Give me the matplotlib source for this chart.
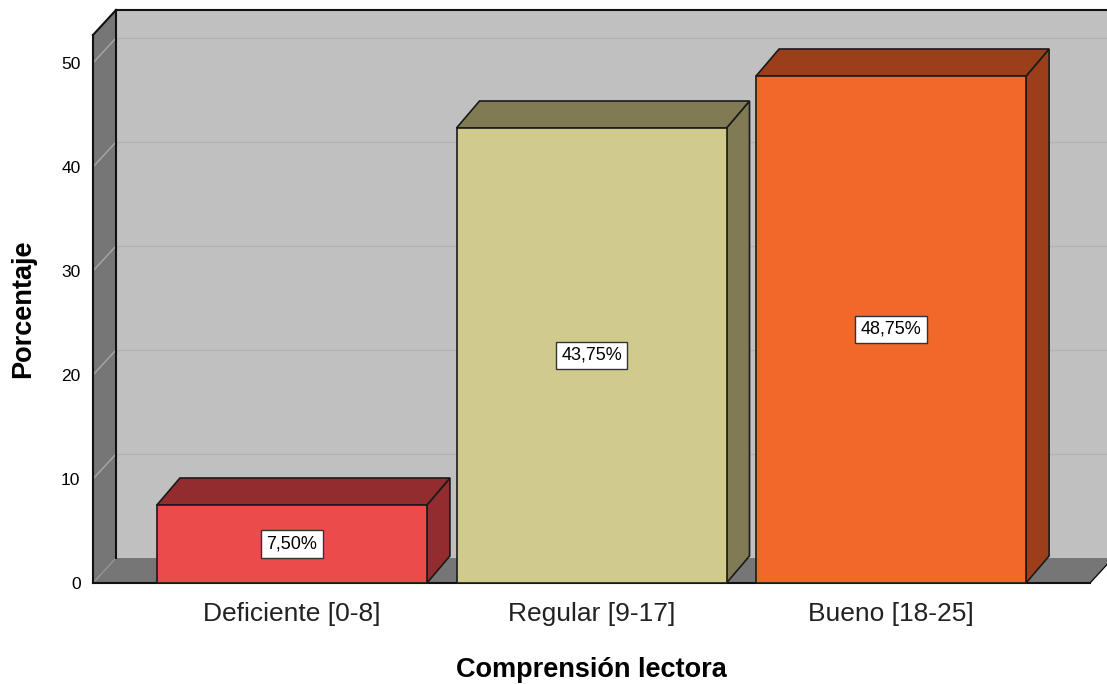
import matplotlib
matplotlib.use("Agg")
import matplotlib.pyplot as plt
from matplotlib.patches import Polygon, Rectangle

plt.rcParams['font.family'] = ['Liberation Sans', 'DejaVu Sans']

categories = ["Deficiente [0-8]", "Regular [9-17]", "Bueno [18-25]"]
values = [7.50, 43.75, 48.75]
value_labels = ["7,50%", "43,75%", "48,75%"]
yticks = [0, 10, 20, 30, 40, 50]
front_colors = ["#ec4b4c", "#d0ca8c", "#f2682a"]
shade_colors = ["#922c2e", "#807b55", "#9a3f19"]

W, H = 1107, 684
fig = plt.figure(figsize=(W / 100, H / 100), dpi=100)

# pixel geometry of the plotting frame
px_left, px_right = 93, 1090
px_y0 = 583
ppu_y = 10.40
px_top = 35
ytop = (px_y0 - px_top) / ppu_y
ax = fig.add_axes([px_left / W, (H - px_y0) / H,
                   (px_right - px_left) / W, (px_y0 - px_top) / H])
x0, x1 = -0.664, 2.664
ax.set_xlim(x0, x1)
ax.set_ylim(0, ytop)
ppu_x = (px_right - px_left) / (x1 - x0)

ddx = 23 / ppu_x
ddy = 25 / ppu_y
bdy = 27 / ppu_y

wall_dark = "#767676"
wall_light = "#c0c0c0"
kw = dict(clip_on=False)

# back wall
ax.add_patch(Polygon([(x0 + ddx, ddy), (x1 + 2 * ddx, ddy), (x1 + 2 * ddx, ytop + ddy),
                      (x0 + ddx, ytop + ddy)], closed=True, facecolor=wall_light,
                     edgecolor="none", zorder=1, **kw))
# left wall
ax.add_patch(Polygon([(x0, 0), (x0, ytop), (x0 + ddx, ytop + ddy), (x0 + ddx, ddy)],
                     closed=True, facecolor=wall_dark, edgecolor="none", zorder=1, **kw))
# floor
ax.add_patch(Polygon([(x0, 0), (x1, 0), (x1 + ddx, ddy), (x0 + ddx, ddy)],
                     closed=True, facecolor=wall_dark, edgecolor="none", zorder=1, **kw))

# gridlines
for v in yticks[1:]:
    ax.plot([x0, x0 + ddx], [v, v + ddy], color="#a8a8a8", lw=1.0, zorder=2, **kw)
    ax.plot([x0 + ddx, x1 + 2 * ddx], [v + ddy, v + ddy], color="#b2b2b2", lw=1.0, zorder=2, **kw)

# outlines
lc = "#111111"
ax.plot([x0, x0], [0, ytop], color=lc, lw=1.5, zorder=3, **kw)
ax.plot([x0, x0 + ddx], [ytop, ytop + ddy], color=lc, lw=1.5, zorder=3, **kw)
ax.plot([x0 + ddx, x1 + 2 * ddx], [ytop + ddy, ytop + ddy], color=lc, lw=1.5, zorder=3, **kw)
ax.plot([x0 + ddx, x0 + ddx], [ddy, ytop + ddy], color=lc, lw=1.5, zorder=3, **kw)
ax.plot([x0, x1], [0, 0], color=lc, lw=1.5, zorder=3, **kw)
ax.plot([x1, x1 + ddx], [0, ddy], color=lc, lw=1.0, zorder=3, **kw)
ax.plot([x0, x0 + ddx], [0, ddy], color="#9a9a9a", lw=0.8, zorder=2, **kw)

# bars
w = 270 / ppu_x
for i, (v, fc, sc, lab) in enumerate(zip(values, front_colors, shade_colors, value_labels)):
    l, r = i - w / 2, i + w / 2
    ax.add_patch(Polygon([(r, 0), (r + ddx, bdy), (r + ddx, v + bdy), (r, v)], closed=True,
                         facecolor=sc, edgecolor="#1a1a1a", lw=1.2, zorder=4, **kw))
    ax.add_patch(Polygon([(l, v), (r, v), (r + ddx, v + bdy), (l + ddx, v + bdy)], closed=True,
                         facecolor=sc, edgecolor="#1a1a1a", lw=1.2, zorder=4, **kw))
    ax.add_patch(Rectangle((l, 0), w, v, facecolor=fc, edgecolor="#1a1a1a", lw=1.2,
                           zorder=5, **kw))
    ax.text(i, v / 2, lab, ha="center", va="center", fontsize=13, color="black", zorder=6,
            bbox=dict(boxstyle="square,pad=0.3", facecolor="white", edgecolor="#333333", lw=1.0))

for s in ax.spines.values():
    s.set_visible(False)
ax.set_facecolor("none")
ax.set_yticks(yticks)
ax.set_yticklabels([str(t) for t in yticks], fontsize=12.5)
ax.tick_params(axis="y", length=0, pad=9)
ax.set_xticks(range(len(categories)))
ax.set_xticklabels(categories, fontsize=19, color="#222222")
ax.tick_params(axis="x", length=0, pad=14)
ax.set_xlabel("Comprensión lectora", fontsize=19.5, fontweight="bold", labelpad=22)
ax.set_ylabel("Porcentaje", fontsize=19.5, fontweight="bold", labelpad=18)

fig.savefig("out.png", dpi=100)
